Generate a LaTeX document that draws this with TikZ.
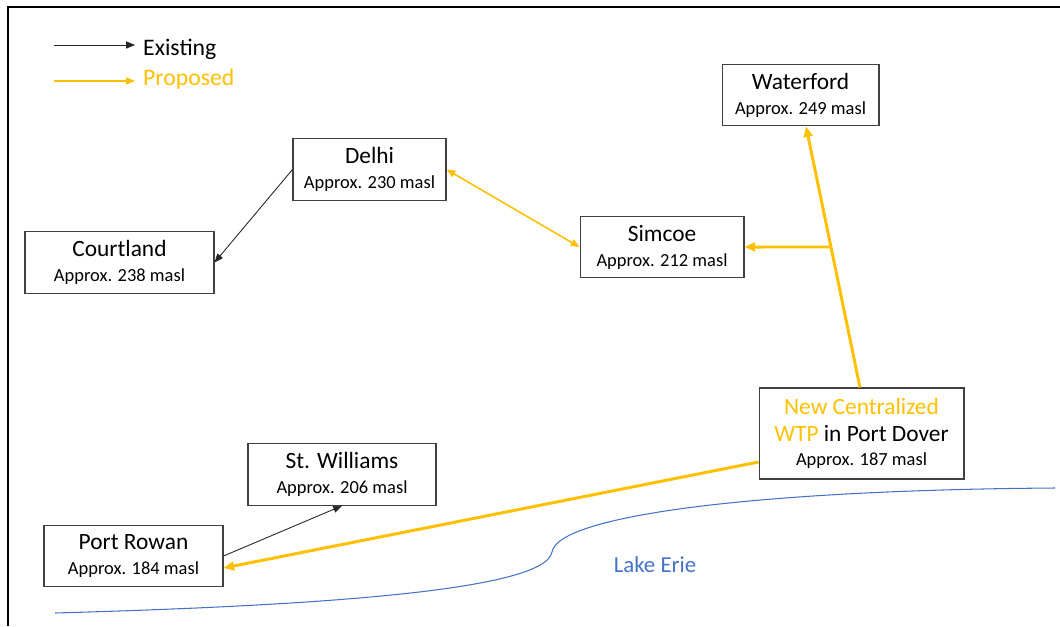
\documentclass[tikz,border=0pt]{standalone}
\usepackage{fontspec}
\setmainfont{Carlito}
\usetikzlibrary{arrows.meta,calc,positioning}
\definecolor{wtpgold}{RGB}{255,192,0}
\definecolor{lakeblue}{RGB}{68,114,196}
\tikzstyle{town} = [draw=black!75, line width=0.6pt, align=center, inner sep=0pt, minimum height=1.23cm, font=\fontsize{13.3}{14.2}\selectfont, execute at begin node=\rule{0pt}{11.8pt}]
\tikzstyle{existing} = [black!85, line width=0.5pt, -{Triangle[length=5pt,width=4pt]}]
\tikzstyle{proposed} = [wtpgold, line width=0.9pt, -{Triangle[length=5pt,width=4pt]}]
\tikzstyle{mainline} = [wtpgold, line width=1.7pt, -{Triangle[length=6pt,width=5pt]}]
\newcommand{\elev}[1]{{\fontsize{10.5}{12}\selectfont Approx. #1 masl}}

\begin{document}
\begin{tikzpicture}[x=0.02cm, y=-0.02cm]
\useasboundingbox (0,0) rectangle (1060,626);
\draw [line width=1.1pt] (1060,7) -- (8,7) -- (8,626);
% legend
\coordinate (e1) at (54,45);
\coordinate (e2) at (135,45);
\coordinate (p1) at (54,81);
\coordinate (p2) at (135,81);
\draw [existing] (e1)--(e2);
\draw [proposed, line width=0.6pt] (p1)--(p2);
\node (lgex) [anchor=west, font=\fontsize{13.5}{15}\selectfont] at (137,49) {Existing};
\node (lgpr) [anchor=west, font=\fontsize{13.5}{15}\selectfont, text=wtpgold] at (137,79) {Proposed};
% towns
\node (del) [town, minimum width=3.06cm] at (369.5,169.5) {Delhi\\\elev{230}};
\node (crt) [town, minimum width=3.78cm] at (119.5,262.5) {Courtland\\\elev{238}};
\node (sim) [town, minimum width=3.28cm] at (662,247) {Simcoe\\\elev{212}};
\node (wat) [town, minimum width=3.14cm] at (800.5,95) {Waterford\\\elev{249}};
\node (wtp) [town, minimum width=4.1cm, minimum height=1.82cm] at (861.5,433.5) {\textcolor{wtpgold}{New Centralized}\\[1pt]\textcolor{wtpgold}{WTP} in Port Dover\\\elev{187}};
\node (stw) [town, minimum width=3.76cm] at (342,474.5) {St. Williams\\\elev{206}};
\node (prw) [town, minimum width=3.58cm] at (133.5,556) {Port Rowan\\\elev{184}};
% lake
\draw [lakeblue, line width=0.6pt] (55,613) .. controls (300,606) and (545,592) .. (552,552) .. controls (558,515) and (760,490) .. (1055,488);
\node (lake) [text=lakeblue, font=\fontsize{13}{15}\selectfont] at (655,565) {Lake Erie};
% connectors
\coordinate (wtop) at ([xshift=-0.03cm]wtp.north);
\coordinate (wbot) at ([xshift=0.11cm]wat.south);
\coordinate (br) at (intersection of wtop--wbot and sim.east--{$(sim.east)+(200,0)$});
\draw [existing] (del.west)--(crt.east);
\draw [proposed, {Triangle[length=5pt,width=4pt]}-{Triangle[length=5pt,width=4pt]}] (del.east)--(sim.west);
\draw [mainline] (wtop)--(wbot);
\draw [mainline] (br)--(sim.east);
\draw [mainline] ([yshift=-0.57cm]wtp.west)--([yshift=-0.24cm]prw.east);
\draw [existing] (prw.east)--(stw.south);
\end{tikzpicture}
\end{document}
